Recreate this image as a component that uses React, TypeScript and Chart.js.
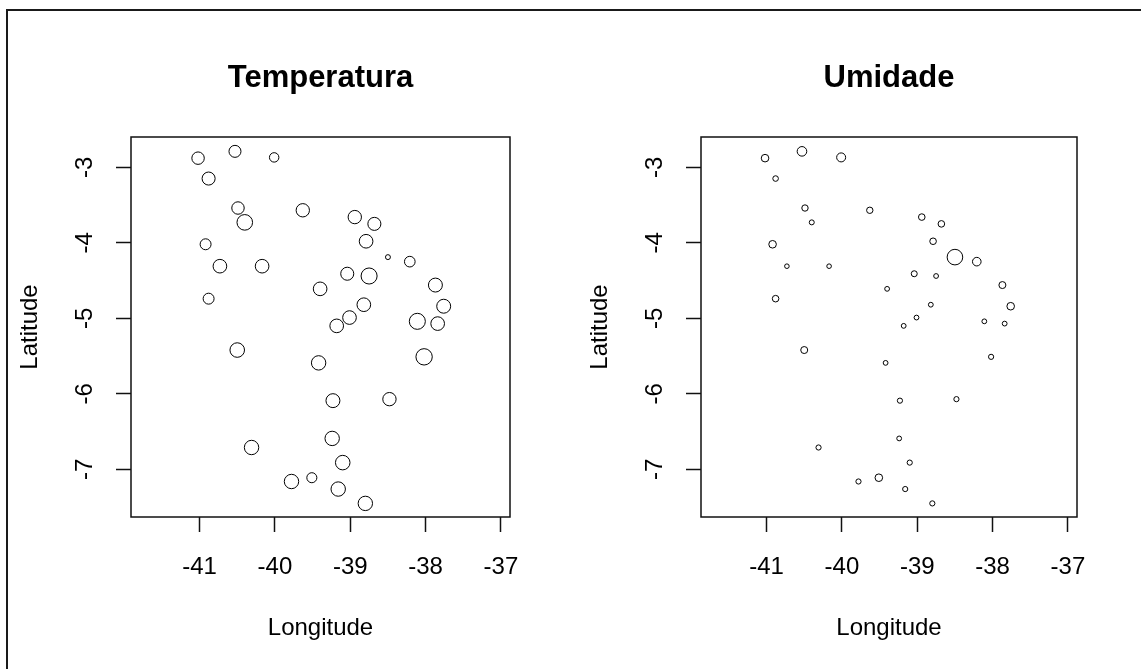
import React, { useEffect, useRef } from "react";
import { Chart, registerables } from "chart.js";

Chart.register(...registerables);

// Weather stations: position (degrees) and the two measured variables.
const LONGITUDE = [
  -41.02, -40.53, -40.01, -40.88, -40.49, -40.4, -39.63, -40.92, -40.73, -40.17,
  -40.88, -39.4, -38.94, -38.68, -38.79, -38.5, -38.21, -39.04, -38.75, -37.87,
  -38.82, -37.76, -39.01, -39.18, -38.11, -37.84, -40.5, -39.42, -38.02, -39.23,
  -38.48, -39.24, -39.1, -39.16, -38.8, -40.31, -39.78, -39.51,
];
const LATITUDE = [
  -2.88, -2.79, -2.87, -3.15, -3.54, -3.73, -3.57, -4.02, -4.31, -4.31,
  -4.74, -4.61, -3.66, -3.75, -3.98, -4.19, -4.25, -4.41, -4.44, -4.56,
  -4.82, -4.84, -4.99, -5.1, -5.04, -5.07, -5.42, -5.59, -5.51, -6.09,
  -6.07, -6.59, -6.91, -7.26, -7.45, -6.71, -7.16, -7.11,
];
// Temperature (°C)
const TEMPERATURA = [
  28.3, 28.0, 26.3, 28.7, 28.3, 30.4, 28.9, 27.3, 29.1, 29.1,
  27.3, 29.1, 28.9, 28.7, 29.1, 23.3, 27.1, 28.7, 30.7, 29.3,
  29.1, 29.3, 29.1, 29.1, 30.7, 29.1, 29.7, 29.6, 30.9, 29.3,
  28.9, 29.6, 29.7, 29.6, 29.6, 29.6, 29.6, 26.7,
];
// Relative humidity (%)
const UMIDADE = [
  69.0, 74.0, 72.5, 64.0, 66.0, 62.5, 66.0, 69.0, 61.5, 61.5,
  66.5, 62.0, 66.5, 66.5, 66.5, 89.0, 71.5, 65.0, 62.0, 67.5,
  62.0, 69.0, 62.0, 62.0, 62.0, 62.0, 67.5, 62.0, 63.0, 63.0,
  63.0, 62.0, 63.0, 63.0, 63.0, 63.0, 63.0, 69.0,
];

const X_TICKS = [-41, -40, -39, -38, -37];
const Y_TICKS = [-3, -4, -5, -6, -7];

const FONT = "'Liberation Sans', Arial, Helvetica, sans-serif";

// Symbol size grows with the measured value.
const temperaturaRadius = (t: number) => (t - 20) * 0.75;
const umidadeRadius = (u: number) => (u - 50) / 5;

const framePlugin = {
  id: "plotFrame",
  afterDatasetsDraw(chart: any) {
    const { ctx, chartArea: a } = chart;
    ctx.save();
    ctx.strokeStyle = "#111";
    ctx.lineWidth = 1.5;
    ctx.strokeRect(a.left, a.top, a.right - a.left, a.bottom - a.top);
    ctx.restore();
  },
};

type PanelProps = {
  title: string;
  values: number[];
  toRadius: (v: number) => number;
  left: number;
  width: number;
  padRight: number;
  xMin: number;
};

function Panel({ title, values, toRadius, left, width, padRight, xMin }: PanelProps) {
  const ref = useRef<HTMLCanvasElement | null>(null);

  useEffect(() => {
    if (!ref.current) return;
    const radii = values.map(toRadius);
    const tickFont = { family: FONT, size: 24, lineHeight: 1 };
    const chart = new Chart(ref.current, {
      type: "scatter",
      data: {
        datasets: [
          {
            data: LONGITUDE.map((x, i) => ({ x, y: LATITUDE[i] })),
            pointRadius: radii,
            pointHoverRadius: radii,
            pointBackgroundColor: "rgba(0,0,0,0)",
            pointBorderColor: "#000",
            pointBorderWidth: 1,
            showLine: false,
          },
        ],
      },
      options: {
        responsive: false,
        animation: false,
        events: [],
        layout: { autoPadding: false, padding: { left: 0, top: 0, right: padRight, bottom: 0 } },
        plugins: {
          legend: { display: false },
          tooltip: { enabled: false },
          title: {
            display: true,
            text: title,
            fullSize: false,
            color: "#000",
            font: { family: FONT, size: 31, weight: "bold", lineHeight: 1 },
            padding: { top: 63, bottom: 43 },
          },
        },
        scales: {
          x: {
            type: "linear",
            min: xMin,
            max: -36.88,
            afterBuildTicks: (s: any) => {
              s.ticks = X_TICKS.map((value) => ({ value }));
            },
            afterFit: (s: any) => {
              s.height = 152;
            },
            grid: {
              drawOnChartArea: false,
              drawTicks: true,
              tickLength: 15,
              tickColor: "#111",
              tickWidth: 1.5,
            },
            border: { display: false },
            ticks: {
              color: "#000",
              font: tickFont,
              padding: 23,
              maxRotation: 0,
              autoSkip: false,
              callback: (v: any) => String(v),
            },
            title: {
              display: true,
              text: "Longitude",
              color: "#000",
              font: tickFont,
              padding: { top: 0, bottom: 29 },
            },
          },
          y: {
            type: "linear",
            min: -7.63,
            max: -2.6,
            afterBuildTicks: (s: any) => {
              s.ticks = Y_TICKS.map((value) => ({ value }));
            },
            afterFit: (s: any) => {
              s.width = 131;
            },
            grid: {
              drawOnChartArea: false,
              drawTicks: true,
              tickLength: 15,
              tickColor: "#111",
              tickWidth: 1.5,
            },
            border: { display: false },
            ticks: {
              color: "#000",
              font: tickFont,
              padding: 20,
              minRotation: 90,
              maxRotation: 90,
              crossAlign: "center",
              autoSkip: false,
              callback: (v: any) => String(v),
            },
            title: {
              display: true,
              text: "Latitude",
              color: "#000",
              font: tickFont,
              padding: { top: 18, bottom: 0 },
            },
          },
        },
      },
      plugins: [framePlugin],
    } as any);
    return () => chart.destroy();
  }, [title, values, toRadius, padRight, xMin]);

  return (
    <canvas
      ref={ref}
      width={width}
      height={669}
      style={{ position: "absolute", left, top: 0, width, height: 669 }}
    />
  );
}

export default function App() {
  return (
    <div
      style={{
        position: "fixed",
        left: 0,
        top: 0,
        width: 1141,
        height: 669,
        background: "#fff",
        overflow: "hidden",
      }}
    >
      <div
        style={{
          position: "absolute",
          left: 6,
          top: 9,
          width: 1200,
          height: 700,
          border: "2px solid #1a1a1a",
        }}
      />
      <Panel
        title="Temperatura"
        values={TEMPERATURA}
        toRadius={temperaturaRadius}
        left={0}
        width={570}
        padRight={60}
        xMin={-41.91}
      />
      <Panel
        title="Umidade"
        values={UMIDADE}
        toRadius={umidadeRadius}
        left={570}
        width={571}
        padRight={64}
        xMin={-41.87}
      />
    </div>
  );
}
